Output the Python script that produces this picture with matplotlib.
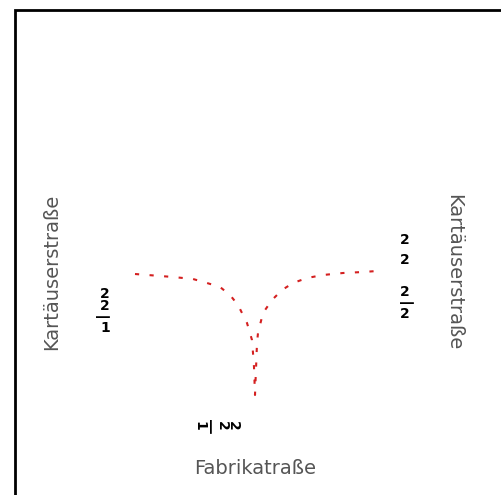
import matplotlib
matplotlib.use('Agg')
import matplotlib.pyplot as plt
from matplotlib.patches import Rectangle

# Profil der Straße (Abstand zur Kreuzung, Höhe)
abstand = [-120, -82, -62, -48, -35, -25, -17, -8, -3, -2, -1, 0,
           2, 3, 8, 17, 27, 38, 52, 68, 88, 108, 122]
hoehe = [-2, -5, -7, -11, -15, -23, -33, -51, -68, -81, -95, -123,
         -71, -61, -41, -28, -18, -11, -6, -3, -1, 0, 1]

x_ticks = [-39]
x_tick_labels = ['2\n2\n―\n1']
y_ticks = [-39]
y_tick_labels = ['2\n2\n―\n1']
y2_ticks = [27, -31]
y2_tick_labels = ['2\n2', '2\n―\n2']

fig = plt.figure(figsize=(5.01, 4.95), dpi=100)
ax = fig.add_axes([125/501, (495-405)/495, 260/501, 266/495])

ax.plot(abstand, hoehe, color='#d42020', linewidth=1.5, linestyle=(0, (2, 5)))
ax.set_xlim(-130, 130)
ax.set_ylim(-133, 133)

for s in ax.spines.values():
    s.set_visible(False)

ax.set_xticks(x_ticks)
ax.set_xticklabels(x_tick_labels, rotation=-90, fontsize=10, linespacing=0.75,
                   fontweight='bold')
ax.set_yticks(y_ticks)
ax.set_yticklabels(y_tick_labels, fontsize=10, linespacing=0.75, fontweight='bold')
ax.tick_params(axis='both', length=0)
ax.tick_params(axis='x', pad=10)
ax.tick_params(axis='y', pad=11)

ax.set_xlabel('Fabrikatraße', fontsize=14, color='#555555')
ax.xaxis.set_label_coords(0.5, -0.203)
ax.set_ylabel('Kartäuserstraße', fontsize=14, color='#555555')
ax.yaxis.set_label_coords(-0.246, 0.5)

ax2 = ax.twinx()
ax2.set_ylim(-133, 133)
for s in ax2.spines.values():
    s.set_visible(False)
ax2.set_yticks(y2_ticks)
ax2.set_yticklabels(y2_tick_labels, fontsize=10, linespacing=0.75, fontweight='bold')
ax2.get_yticklabels()[0].set_linespacing(1.6)
ax2.tick_params(axis='y', length=0, pad=11)
ax2.set_ylabel('Kartäuserstraße', fontsize=14, color='#555555', rotation=270, va='bottom')
ax2.yaxis.set_label_coords(1.227, 0.5)

# Rahmen oben/links
rahmen = Rectangle((15/501, -0.2), 1.2, (495-10)/495 + 0.2, fill=False,
                   edgecolor='black', linewidth=2, transform=fig.transFigure,
                   clip_on=False)
fig.add_artist(rahmen)

fig.savefig('out.png', dpi=100)
